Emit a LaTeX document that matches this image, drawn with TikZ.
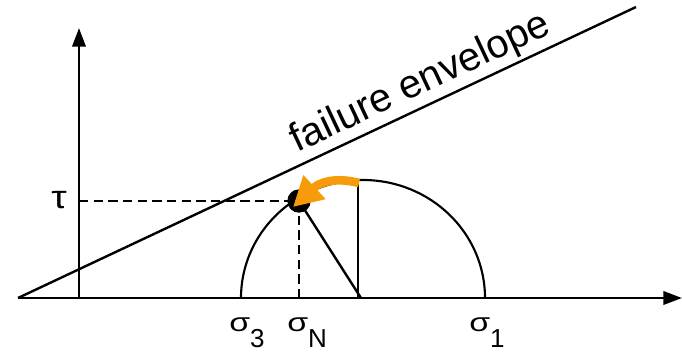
\documentclass[tikz,border=0pt]{standalone}
\usepackage{fontspec}
\setmainfont{Liberation Sans}
\usetikzlibrary{arrows.meta}
\definecolor{arrorange}{RGB}{247,155,10}
\newcommand{\sig}{\scalebox{1.3}[1]{σ}}
\newcommand{\sub}[1]{\raisebox{-12pt}{#1}}
\tikzset{
  axis/.style={line width=2pt,-{Triangle[length=14pt,width=10pt]}},
  dashline/.style={line width=1.5pt,dash pattern=on 7pt off 4pt},
  lbl/.style={font=\fontsize{19.5}{22}\selectfont,inner sep=0pt}
}
\begin{document}
\begin{tikzpicture}[x=0.75pt,y=-0.75pt]
\useasboundingbox (0,0) rectangle (682,354);
% coordinates
\coordinate (O) at (18,298);
\coordinate (xend) at (682,298);
\coordinate (yorig) at (79,298);
\coordinate (yend) at (79,28);
\coordinate (envend) at (636,7);
\coordinate (C) at (361,298);
\coordinate (top) at (358,180);
\coordinate (sN) at (299,298);
\coordinate (tauax) at (79,201);
% axes
\draw[axis] (O) -- (xend);
\draw[axis] (yorig) -- (yend);
% envelope
\draw[line width=1.8pt] (O) -- (envend);
\node[font=\fontsize{30}{32}\selectfont,rotate=25.2,anchor=base west,inner sep=0pt] (env) at (297,153) {failure envelope};
% Mohr semicircle
\draw[line width=1.6pt] (241,298) arc[start angle=180,end angle=0,x radius=91.5pt,y radius=88.5pt];
% vertical radius
\draw[line width=1.1pt] (top) -- (358,298);
% point
\node[circle,fill=black,minimum size=17.5pt,inner sep=0pt] (P) at (299,201) {};
% radius to point
\draw[line width=1.8pt] (C) -- (P.center);
% dashed lines
\draw[dashline] (tauax) -- (P.center);
\draw[dashline] (P.center) -- (sN);
% orange arrow
\draw[arrorange,line width=6.5pt,-{Triangle[length=22pt,width=23pt]}] (359,183) .. controls (336,177) and (320,182) .. (293,207);
% labels
\node[lbl] (tau) at (59,200) {\scalebox{1.5}[1.25]{τ}};
\node[lbl,anchor=base west] (s3) at (229,331) {\sig\sub{3}};
\node[lbl,anchor=base west] (sNl) at (287,331) {\sig\sub{N}};
\node[lbl,anchor=base west] (s1) at (469,331) {\sig\sub{1}};
\end{tikzpicture}
\end{document}
